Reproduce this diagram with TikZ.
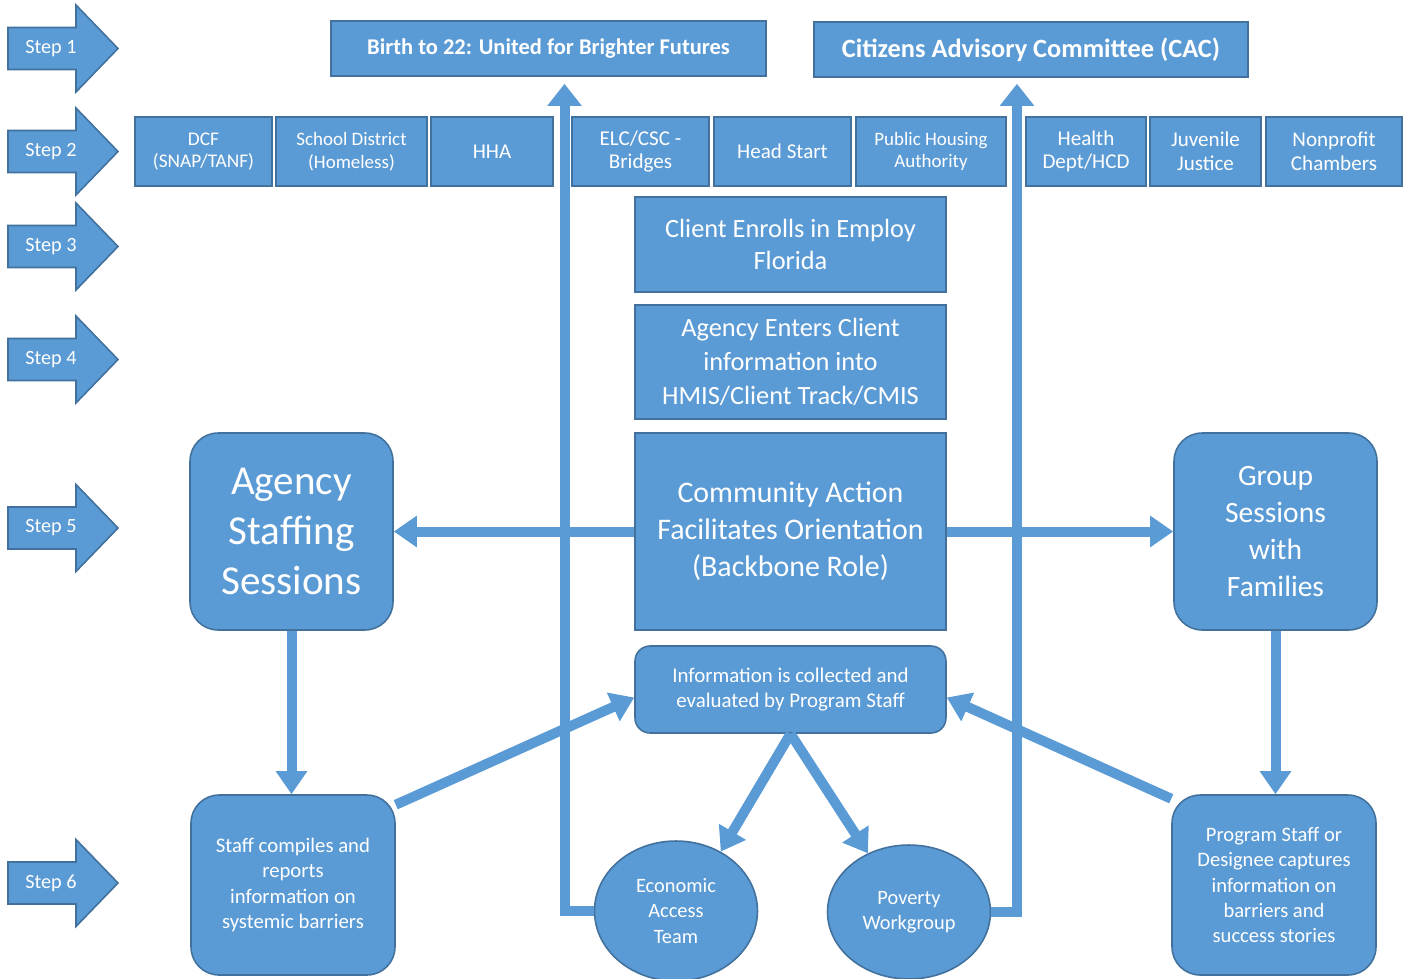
\documentclass[tikz,border=0pt]{standalone}
\usepackage{fontspec}
\setmainfont{Carlito}
\usetikzlibrary{arrows.meta,calc,shapes.geometric}
\definecolor{boxblue}{HTML}{5B9BD5}
\definecolor{edgeblue}{HTML}{41719C}
\newcommand{\fs}[2]{\fontsize{#1}{#2}\selectfont}
\newcommand{\steparrow}[3]{\draw[stepshape] (8,#2-21) -- (76,#2-21) -- (76,#2-43.5) -- (118,#2) -- (76,#2+43.5) -- (76,#2+21) -- (8,#2+21) -- cycle;
	\node[steptext] (#1) at (51,#2) {#3};}
\tikzset{
	box/.style={draw=edgeblue, fill=boxblue, text=white, align=center, line width=0.9pt, inner sep=1pt},
	rbox/.style={box, rounded corners=0.56cm},
	oval/.style={box, ellipse},
	rowbox/.style={box, minimum height=1.38cm, font=\fs{12}{13.5}},
	midbox/.style={box, minimum width=6.22cm},
	stepshape/.style={draw=edgeblue, fill=boxblue, line width=0.9pt},
	steptext/.style={text=white, font=\fs{11.5}{13}},
	conn/.style={draw=boxblue, line width=0.2cm, -{Triangle[width=0.6cm,length=0.46cm]}},
	upconn/.style={conn, -{Triangle[width=0.66cm,length=0.44cm]}}
}

\begin{document}
\begin{tikzpicture}[x=0.02cm, y=-0.02cm]
			%%%%% STEPS %%%%%
			\useasboundingbox (0,0) rectangle (1407,978);
			
			\steparrow{step1}{48.5}{Step 1}
			\steparrow{step2}{151.5}{Step 2}
			\steparrow{step3}{246.5}{Step 3}
			\steparrow{step4}{359.5}{Step 4}
			\steparrow{step5}{528}{Step 5}
			\steparrow{step6}{883}{Step 6}
			
			%%%%% STEP 1 %%%%%
			\node[box, minimum width=8.7cm, minimum height=1.1cm, font=\fs{12.8}{15}\bfseries] (birth) at (548.5, 48.5) {Birth to 22: United for Brighter Futures};
			\node[box, minimum width=8.68cm, minimum height=1.1cm, font=\fs{15}{17}\bfseries] (cac) at (1031, 49.5) {Citizens Advisory Committee (CAC)};
			
			%%%%% STEP 2 %%%%%
			\node[rowbox, minimum width=2.74cm, font=\fs{11}{13}] (dcf) at (203.5, 151.5) {DCF\\(SNAP/TANF)};
			\node[rowbox, minimum width=3.02cm, font=\fs{10.8}{13}] (school) at (351.5, 151.5) {School District\\(Homeless)};
			\node[rowbox, minimum width=2.44cm] (hha) at (492, 151.5) {HHA};
			\node[rowbox, minimum width=2.74cm] (elc) at (640.5, 151.5) {ELC/CSC -\\Bridges};
			\node[rowbox, minimum width=2.74cm] (head) at (782.5, 151.5) {Head Start};
			\node[rowbox, minimum width=3.0cm, font=\fs{10.8}{13}] (housing) at (931, 151.5) {Public Housing\\Authority};
			\node[rowbox, minimum width=2.4cm] (health) at (1086, 151.5) {Health\\Dept/HCD};
			\node[rowbox, minimum width=2.22cm] (juvenile) at (1205.5, 151.5) {Juvenile\\Justice};
			\node[rowbox, minimum width=2.72cm] (nonprofit) at (1334, 151.5) {Nonprofit\\Chambers};
			
			%%%%% STEPS 3 TO 5 %%%%%
			\node[midbox, minimum height=1.9cm, font=\fs{15}{18.5}] (client) at (790.5, 244.5) {Client Enrolls in Employ\\Florida};
			\node[midbox, minimum height=2.28cm, font=\fs{15}{19.4}] (enter) at (790.5, 362) {Agency Enters Client\\information into\\HMIS/Client Track/CMIS};
			\node[midbox, minimum height=3.94cm, font=\fs{17}{21}] (comm) at (790.5, 531.5) {Community Action\\Facilitates Orientation\\(Backbone Role)};
			\node[rbox, minimum width=4.06cm, minimum height=3.94cm, font=\fs{23.4}{28.5}] (agency) at (291.5, 531.5) {Agency\\Staffing\\Sessions};
			\node[rbox, minimum width=4.06cm, minimum height=3.94cm, font=\fs{16.8}{21}] (group) at (1275.5, 531.5) {Group\\Sessions\\with\\Families};
			
			%%%%% STEP 6 %%%%%
			\node[box, rounded corners=0.3cm, minimum width=6.22cm, minimum height=1.74cm, font=\fs{11.9}{14.2}] (info) at (790.5, 689.5) {Information is collected and\\evaluated by Program Staff};
			\node[rbox, minimum width=4.08cm, minimum height=3.6cm, font=\fs{11.8}{14.5}] (staff) at (293, 885) {Staff compiles and\\reports\\information on\\systemic barriers};
			\node[rbox, minimum width=4.08cm, minimum height=3.6cm, font=\fs{11.7}{14.5}] (prog) at (1274, 885) {Program Staff or\\Designee captures\\information on\\barriers and\\success stories};
			\node[oval, minimum width=3.26cm, minimum height=2.8cm, font=\fs{11.6}{14.3}] (eat) at (676, 911) {Economic\\Access\\Team};
			\node[oval, minimum width=3.26cm, minimum height=2.68cm, font=\fs{11.6}{14.3}] (pov) at (909, 912) {Poverty\\Workgroup};
			
			%%%%% CONNECTORS %%%%%
			\draw[conn] (comm.west) -- (agency.east);
			\draw[conn] (comm.east) -- (group.west);
			\draw[conn] (agency.south) -- (agency.south |- staff.north);
			\draw[conn] (group.south) -- (group.south |- prog.north);
			\draw[conn] (staff.38) -- ($(info.west)+(0,8)$);
			\draw[conn] (prog.140) -- ($(info.east)+(0,8)$);
			\draw[conn] (info.south) -- (eat.53);
			\draw[conn] (info.south) -- (pov.125);
			\draw[upconn] (eat.west) -| ($(birth.south)+(16,7)$);
			\draw[upconn] (pov.east) -| ($(cac.south)+(-14,6)$);
			
			%%%%% END %%%%%
\end{tikzpicture}
\end{document}
